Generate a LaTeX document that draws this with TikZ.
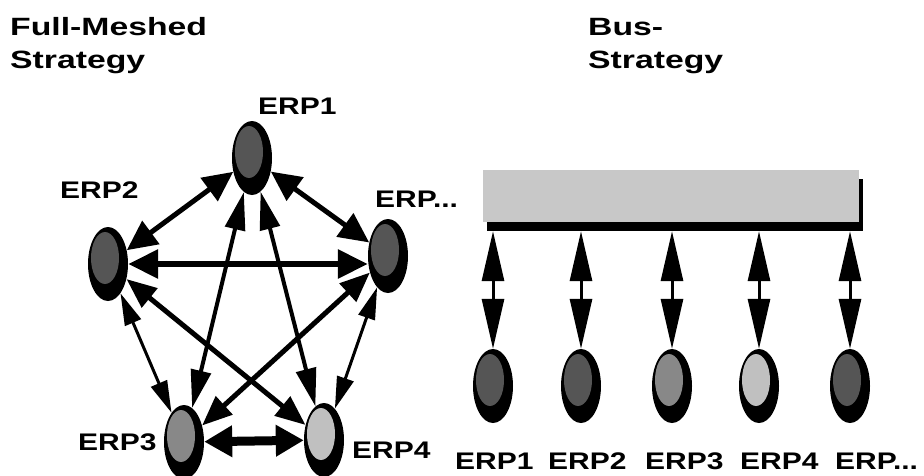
\documentclass[tikz,border=0pt]{standalone}
\usepackage{fontspec}
\setmainfont{Liberation Sans}[FakeStretch=1.25]
\newfontfamily\titlefont{Liberation Sans}[FakeStretch=1.35]
\usetikzlibrary{shapes.geometric,arrows.meta,calc}
\definecolor{dkgray}{HTML}{555555}
\definecolor{mdgray}{HTML}{888888}
\definecolor{ltgray}{HTML}{C0C0C0}
\definecolor{busgray}{HTML}{C8C8C8}
\tikzset{
  erp/.style={ellipse, fill=black, minimum width=40pt, minimum height=74pt, inner sep=0pt,
    path picture={\fill[#1] ([shift={(-3pt,6pt)}]path picture bounding box.center) ellipse (14pt and 26pt);}},
  lab/.style={anchor=base west, inner sep=0pt, font=\fontsize{24}{28}\selectfont\bfseries},
  ttl/.style={anchor=base west, inner sep=0pt, font=\titlefont\fontsize{25}{30}\selectfont\bfseries},
  dbl/.style n args={3}{line width=#1, {Triangle[length=#2, width=#3]}-{Triangle[length=#2, width=#3]}},
}
\begin{document}
\begin{tikzpicture}[x=1pt,y=-1pt]
\useasboundingbox (0,0) rectangle (924,475);
% titles
\node[ttl] (t1) at (10,35) {Full-Meshed};
\node[ttl] (t2) at (10,68) {Strategy};
\node[ttl] (t3) at (588,35) {Bus-};
\node[ttl] (t4) at (588,68) {Strategy};
% full mesh nodes
\node[erp=dkgray] (L1) at (252,158) {};
\node[erp=dkgray] (L2) at (108,264) {};
\node[erp=dkgray] (L5) at (388,256) {};
\node[erp=mdgray] (L3) at (184,442) {};
\node[erp=ltgray] (L4) at (324,440) {};
\node[lab] (l1) at (258,114) {ERP1};
\node[lab] (l2) at (60,198) {ERP2};
\node[lab] (l5) at (375,207) {ERP...};
\node[lab] (l3) at (78,450) {ERP3};
\node[lab] (l4) at (352,458) {ERP4};
% mesh connectors
\draw[dbl={5pt}{30pt}{28pt}] (L1) -- (L2);
\draw[dbl={5pt}{30pt}{28pt}] (L1) -- (L5);
\draw[dbl={6pt}{30pt}{28pt}] (L2.east) -- (L5.west |- L2.east);
\draw[dbl={9pt}{28pt}{30pt}] (L3) -- (L4);
\draw[dbl={5pt}{30pt}{24pt}] (L2) -- (L4);
\draw[dbl={5pt}{30pt}{24pt}] (L5) -- (L3);
\draw[dbl={4pt}{38pt}{20pt}] (L1) -- (L3);
\draw[dbl={4pt}{38pt}{20pt}] (L1) -- (L4);
\draw[dbl={3pt}{32pt}{17pt}] (L2) -- (L3);
\draw[dbl={3pt}{32pt}{17pt}] (L5) -- (L4);
% bus
\node[fill=black, minimum width=376pt, minimum height=52pt, inner sep=0pt] (busshadow) at (675,205) {};
\node[fill=busgray, minimum width=376pt, minimum height=52pt, inner sep=0pt] (bus) at (671,196) {};
\node[erp=dkgray] (B1) at (493,386) {};
\node[erp=dkgray] (B2) at (581,386) {};
\node[erp=mdgray] (B3) at (672,386) {};
\node[erp=ltgray] (B4) at (759,386) {};
\node[erp=dkgray] (B5) at (850,386) {};
\foreach \b in {B1,B2,B3,B4,B5}
  \draw[dbl={3pt}{50pt}{22pt}] (busshadow.south -| \b) -- (\b);
\node[lab] (b1) at (455,469) {ERP1};
\node[lab] (b2) at (548,469) {ERP2};
\node[lab] (b3) at (645,469) {ERP3};
\node[lab] (b4) at (740,469) {ERP4};
\node[lab] (b5) at (835,469) {ERP...};
\end{tikzpicture}
\end{document}
